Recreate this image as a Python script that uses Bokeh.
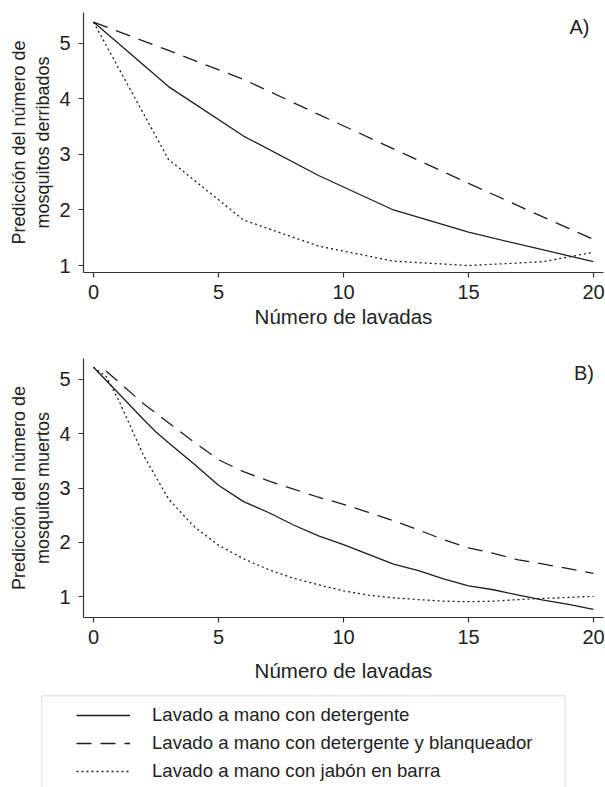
from bokeh.plotting import figure
from bokeh.layouts import column, row
from bokeh.models import Range1d, FixedTicker, Label, Legend, LegendItem, BoxAnnotation
from bokeh.embed import file_html
from bokeh.resources import INLINE

FONT = "Liberation Sans"

# ---------------- data ----------------
x_ticks = [0, 5, 10, 15, 20]
y_ticks = [1, 2, 3, 4, 5]
x_title = "Número de lavadas"
ytitle_a = "Predicción del número de\nmosquitos derribados"
ytitle_b = "Predicción del número de\nmosquitos muertos"
series_names = ["Lavado a mano con detergente",
                "Lavado a mano con detergente y blanqueador",
                "Lavado a mano con jabón en barra"]

# Panel A (derribados)
a_x = [0, 3, 6, 9, 12, 15, 18, 20]
a_det = [5.38, 4.22, 3.33, 2.62, 2.00, 1.60, 1.28, 1.07]
a_blanq = [5.38, 4.87, 4.35, 3.72, 3.10, 2.48, 1.87, 1.47]
a_jabon = [5.38, 2.91, 1.82, 1.35, 1.08, 1.00, 1.07, 1.24]

# Panel B (muertos)
b_x_det = [0, 1, 2, 2.5, 3, 4, 5, 6, 7, 8, 9, 10, 11, 12, 13, 14, 15, 16, 17, 18, 19, 20]
b_det = [5.22, 4.74, 4.26, 4.03, 3.83, 3.45, 3.05, 2.75, 2.55, 2.32, 2.12, 1.96,
         1.78, 1.60, 1.48, 1.33, 1.20, 1.13, 1.03, 0.94, 0.86, 0.77]
b_x_blanq = [0.5, 1, 2, 3, 4, 5, 6, 7, 8, 9, 10, 11, 12, 13, 14, 15, 16, 17, 18, 19, 20]
b_blanq = [5.15, 4.95, 4.55, 4.20, 3.85, 3.52, 3.30, 3.13, 2.98, 2.83, 2.70, 2.55,
           2.40, 2.23, 2.05, 1.90, 1.80, 1.68, 1.60, 1.52, 1.43]
b_x_jabon = [0, 0.5, 1, 2, 3, 4, 5, 6, 7, 8, 9, 10, 11, 12, 13, 14, 15, 16, 17, 18, 19, 20]
b_jabon = [5.22, 5.05, 4.62, 3.60, 2.80, 2.30, 1.95, 1.70, 1.50, 1.34, 1.22, 1.11,
           1.03, 0.98, 0.95, 0.92, 0.91, 0.92, 0.95, 0.97, 0.99, 1.01]

LINE_COLOR = "#1e1e1e"
AXIS_COLOR = "#333333"
TEXT_COLOR = "#222222"
STYLES = [dict(line_dash="solid"), dict(line_dash="15 9"), dict(line_dash="2 3")]
W = 605


def style_axes(p, ytitle, title_standoff):
    p.outline_line_color = None
    p.grid.visible = False
    for ax in (p.xaxis[0], p.yaxis[0]):
        ax.axis_line_color = AXIS_COLOR
        ax.axis_line_width = 1.2
        ax.major_tick_line_color = AXIS_COLOR
        ax.major_tick_line_width = 1.2
        ax.major_tick_out = 5
        ax.major_tick_in = 0
        ax.minor_tick_line_color = None
        ax.major_label_text_font = FONT
        ax.major_label_text_font_size = "20px"
        ax.major_label_text_color = TEXT_COLOR
        ax.axis_label_text_font = FONT
        ax.axis_label_text_font_style = "normal"
        ax.axis_label_text_color = TEXT_COLOR
    p.xaxis[0].ticker = FixedTicker(ticks=x_ticks)
    p.yaxis[0].ticker = FixedTicker(ticks=y_ticks)
    p.xaxis[0].axis_label = x_title
    p.xaxis[0].axis_label_text_font_size = "20.5px"
    p.xaxis[0].major_label_standoff = 7
    p.xaxis[0].axis_label_standoff = title_standoff
    p.yaxis[0].axis_label = ytitle
    p.yaxis[0].axis_label_text_font_size = "18px"
    p.yaxis[0].major_label_standoff = 8
    p.yaxis[0].axis_label_standoff = 3
    p.yaxis[0].major_label_orientation = "horizontal"


# ---------------- panel A ----------------
p1 = figure(width=W, height=330, output_backend="svg", toolbar_location=None,
            x_range=Range1d(-0.4, 20.4), y_range=Range1d(0.875, 5.553),
            min_border_left=83, min_border_right=2, min_border_top=12, min_border_bottom=56)
style_axes(p1, ytitle_a, 3)
for xs, ys, st in ((a_x, a_det, STYLES[0]), (a_x, a_blanq, STYLES[1]), (a_x, a_jabon, STYLES[2])):
    p1.line(xs, ys, line_color=LINE_COLOR, line_width=1.3, **st)
p1.add_layout(Label(x=19.44, y=5.30, text="A)", text_font=FONT, text_font_size="20px",
                    text_color=TEXT_COLOR, text_align="center", text_baseline="middle"))

# ---------------- panel B ----------------
p2 = figure(width=W, height=354, output_backend="svg", toolbar_location=None,
            x_range=Range1d(-0.4, 20.4), y_range=Range1d(0.62, 5.38),
            min_border_left=83, min_border_right=2, min_border_top=28, min_border_bottom=63)
style_axes(p2, ytitle_b, 12)
for xs, ys, st in ((b_x_det, b_det, STYLES[0]), (b_x_blanq, b_blanq, STYLES[1]),
                   (b_x_jabon, b_jabon, STYLES[2])):
    p2.line(xs, ys, line_color=LINE_COLOR, line_width=1.3, **st)
p2.add_layout(Label(x=19.62, y=5.12, text="B)", text_font=FONT, text_font_size="20px",
                    text_color=TEXT_COLOR, text_align="center", text_baseline="middle"))

# ---------------- legend panel ----------------
p3 = figure(width=W, height=103, output_backend="svg", toolbar_location=None,
            x_range=Range1d(0, 1), y_range=Range1d(0, 1),
            min_border_left=41, min_border_right=40, min_border_top=11, min_border_bottom=0)
p3.axis.visible = False
p3.grid.visible = False
p3.outline_line_color = None
p3.add_layout(BoxAnnotation(left=0, right=1, top=1, bottom=-1,
                            fill_alpha=0, line_color="#555555", line_width=1.3))
items = []
nan = float("nan")
for name, st in zip(series_names, STYLES):
    r = p3.line(x=[nan, nan], y=[nan, nan], line_color=LINE_COLOR, line_width=1.3, **st)
    items.append(LegendItem(label=name, renderers=[r]))
legend = Legend(items=items, location=(35, 5), margin=0, padding=0, spacing=6,
                glyph_width=54, glyph_height=20, label_height=20, label_standoff=22,
                label_text_font=FONT, label_text_font_size="18.6px", label_text_color=TEXT_COLOR,
                border_line_color=None, background_fill_alpha=0)
p3.add_layout(legend)

layout = column(column(p1, p2, spacing=0), row(p3), spacing=0)
open("out.html", "w").write(file_html(layout, INLINE))
